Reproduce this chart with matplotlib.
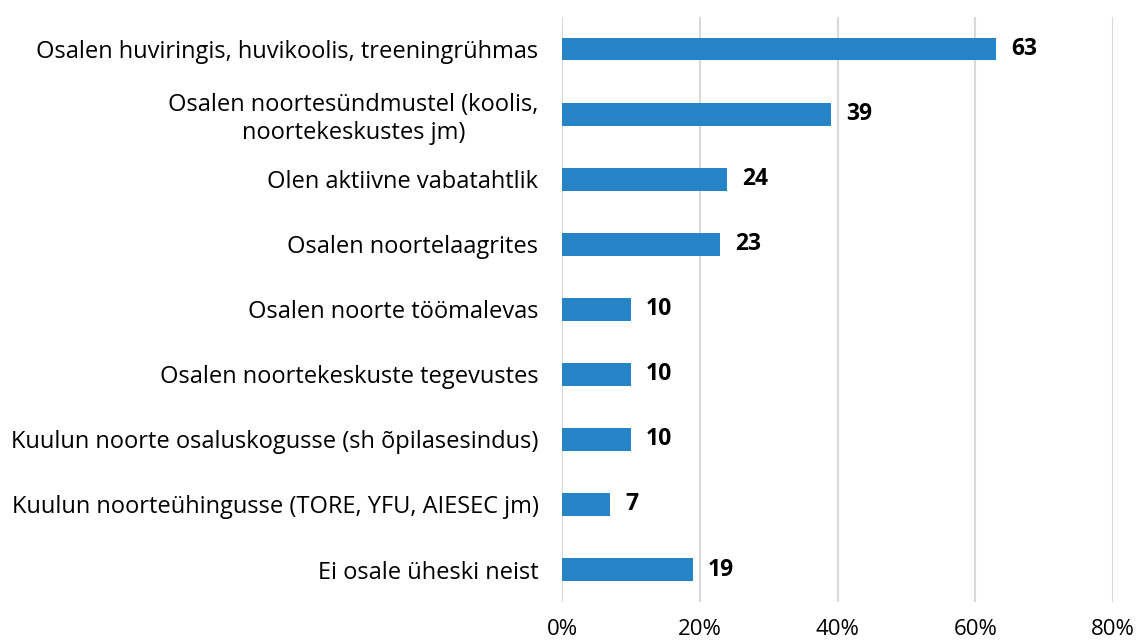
import matplotlib
matplotlib.use("Agg")
import matplotlib.pyplot as plt
from matplotlib.ticker import FuncFormatter

categories = [
    "Osalen huviringis, huvikoolis, treeningrühmas",
    "Osalen noortesündmustel (koolis,\nnoortekeskustes jm)",
    "Olen aktiivne vabatahtlik",
    "Osalen noortelaagrites",
    "Osalen noorte töömalevas",
    "Osalen noortekeskuste tegevustes",
    "Kuulun noorte osaluskogusse (sh õpilasesindus)",
    "Kuulun noorteühingusse (TORE, YFU, AIESEC jm)",
    "Ei osale üheski neist",
]
values = [63, 39, 24, 23, 10, 10, 10, 7, 19]
xticks = [0, 20, 40, 60, 80]

plt.rcParams['font.family'] = ['Open Sans', 'DejaVu Sans']

fig = plt.figure(figsize=(11.41, 6.44), dpi=100)
ax = fig.add_axes([0.4926, 0.0652, 0.4829, 0.9085])

ypos = list(range(len(categories)))
ax.barh(ypos, values, height=0.34, color="#2683C6", zorder=3)
for y, v in zip(ypos, values):
    ax.text(v + 2.2, y, str(v), va="center", ha="left", fontsize=16.5,
            fontweight="bold", color="black", zorder=4)

ax.set_ylim(len(categories) - 0.5, -0.5)
ax.set_xlim(0, 80)
ax.set_yticks(ypos)
ax.set_yticklabels(categories, fontsize=17, multialignment="center")
ax.set_xticks(xticks)
ax.xaxis.set_major_formatter(FuncFormatter(lambda x, p: f"{int(x)}%"))
ax.tick_params(axis="x", labelsize=16, length=0, pad=12)
ax.tick_params(axis="y", length=0, pad=17)
ax.grid(axis="x", color="#D9D9D9", linewidth=1.5, zorder=0)
for s in ax.spines.values():
    s.set_visible(False)

fig.savefig("out.png", dpi=100)
